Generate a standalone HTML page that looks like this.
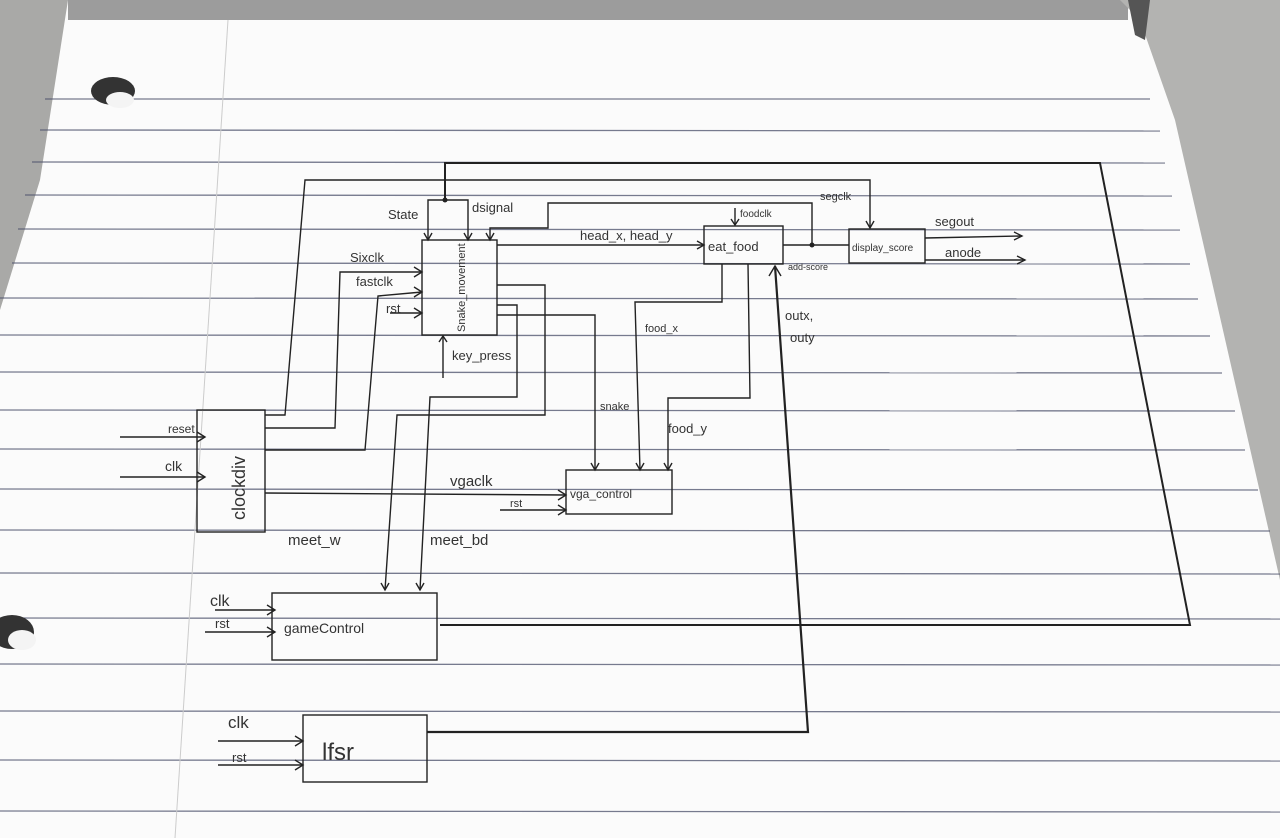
<!DOCTYPE html>
<html><head><meta charset="utf-8"><style>
html,body{margin:0;padding:0;background:#fff;}
svg{display:block}
text{font-family:"Liberation Sans",sans-serif;fill:#333}
</style></head><body>
<svg width="1280" height="838" viewBox="0 0 1280 838" xmlns="http://www.w3.org/2000/svg">
<rect width="1280" height="838" fill="#fbfbfb"/>
<!-- gray surroundings -->
<polygon points="0,0 68,0 40,180 0,310" fill="#a9a9a7"/>
<rect x="68" y="0" width="1060" height="20" fill="#9c9c9c"/>
<polygon points="1120,0 1280,0 1280,580 1175,120 1140,20" fill="#b3b3b1"/>
<polygon points="1128,0 1150,0 1145,40 1135,35" fill="#555"/>
<!-- ruled lines -->
<g stroke="#4a4f6a" stroke-width="1.3" opacity="0.75">
<line x1="45" y1="99" x2="1150" y2="99"/>
<line x1="40" y1="130" x2="1160" y2="131"/>
<line x1="32" y1="162" x2="1165" y2="163"/>
<line x1="25" y1="195" x2="1172" y2="196"/>
<line x1="18" y1="229" x2="1180" y2="230"/>
<line x1="12" y1="263" x2="1190" y2="264"/>
<line x1="0" y1="298" x2="1198" y2="299"/>
<line x1="0" y1="335" x2="1210" y2="336"/>
<line x1="0" y1="372" x2="1222" y2="373"/>
<line x1="0" y1="410" x2="1235" y2="411"/>
<line x1="0" y1="449" x2="1245" y2="450"/>
<line x1="0" y1="489" x2="1258" y2="490"/>
<line x1="0" y1="530" x2="1270" y2="531"/>
<line x1="0" y1="573" x2="1280" y2="574"/>
<line x1="0" y1="618" x2="1280" y2="619"/>
<line x1="0" y1="664" x2="1280" y2="665"/>
<line x1="0" y1="711" x2="1280" y2="712"/>
<line x1="0" y1="760" x2="1280" y2="761"/>
<line x1="0" y1="811" x2="1280" y2="812"/>
</g>
<line x1="228" y1="20" x2="175" y2="838" stroke="#ccc" stroke-width="1"/>
<!-- holes -->
<ellipse cx="113" cy="91" rx="22" ry="14" fill="#333"/>
<ellipse cx="120" cy="100" rx="14" ry="8" fill="#f4f4f4"/>
<ellipse cx="12" cy="632" rx="22" ry="17" fill="#333"/>
<ellipse cx="22" cy="640" rx="14" ry="10" fill="#f4f4f4"/>

<g stroke="#222" stroke-width="1.4" fill="none">
<!-- boxes -->
<rect x="422" y="240" width="75" height="95"/>
<rect x="704" y="226" width="79" height="38"/>
<rect x="849" y="229" width="76" height="34"/>
<rect x="566" y="470" width="106" height="44"/>
<rect x="197" y="410" width="68" height="122"/>
<rect x="272" y="593" width="165" height="67"/>
<rect x="303" y="715" width="124" height="67"/>
<!-- top wire -->
<polyline points="445,200 445,163 1100,163 1190,625 440,625" stroke-width="2"/>
<polyline points="428,240 428,200 468,200 468,240"/>
<!-- second wire -->
<polyline points="265,415 285,415 305,180 870,180 870,228"/>
<polyline points="490,240 490,228 548,228 548,203 812,203 812,245"/>
<line x1="497" y1="245" x2="704" y2="245"/>
<line x1="735" y1="208" x2="735" y2="225"/>
<line x1="783" y1="245" x2="849" y2="245"/>
<line x1="925" y1="238" x2="1022" y2="236"/>
<line x1="925" y1="260" x2="1025" y2="260"/>
<!-- clock wires -->
<polyline points="265,428 335,428 340,272 422,272"/>
<polyline points="265,450 365,450 378,296 422,292"/>
<line x1="390" y1="313" x2="422" y2="313"/>
<line x1="443" y1="378" x2="443" y2="336"/>
<!-- snake outputs -->
<polyline points="497,285 545,285 545,415 397,415 385,590"/>
<polyline points="497,305 517,305 517,397 430,397 420,590"/>
<polyline points="497,315 595,315 595,470"/>
<polyline points="722,264 722,302 635,302 640,470"/>
<polyline points="748,264 750,398 668,398 668,470"/>
<line x1="265" y1="493" x2="566" y2="495"/>
<line x1="500" y1="510" x2="566" y2="510"/>
<line x1="120" y1="437" x2="205" y2="437"/>
<line x1="120" y1="477" x2="205" y2="477"/>
<line x1="215" y1="610" x2="275" y2="610"/>
<line x1="205" y1="632" x2="275" y2="632"/>
<line x1="218" y1="741" x2="303" y2="741"/>
<line x1="218" y1="765" x2="303" y2="765"/>
<polyline points="427,732 808,732 775,266" stroke-width="2.2"/>
<!-- arrowheads -->
<polyline points="424,233 428,240 432,233"/>
<polyline points="464,233 468,240 472,233"/>
<polyline points="486,233 490,240 494,233"/>
<polyline points="697,241 704,245 697,249"/>
<polyline points="731,219 735,225 739,219"/>
<polyline points="866,221 870,228 874,221"/>
<polyline points="1014,232 1022,236 1014,240"/>
<polyline points="1017,256 1025,260 1017,264"/>
<polyline points="414,267 422,272 414,277"/>
<polyline points="414,287 422,292 414,297"/>
<polyline points="414,308 422,313 414,318"/>
<polyline points="439,342 443,336 447,342"/>
<polyline points="381,583 385,590 389,583"/>
<polyline points="416,583 420,590 424,583"/>
<polyline points="591,463 595,470 599,463"/>
<polyline points="636,463 640,470 644,463"/>
<polyline points="664,463 668,470 672,463"/>
<polyline points="558,490 566,495 558,500"/>
<polyline points="558,505 566,510 558,515"/>
<polyline points="197,432 205,437 197,442"/>
<polyline points="197,472 205,477 197,482"/>
<polyline points="267,605 275,610 267,615"/>
<polyline points="267,627 275,632 267,637"/>
<polyline points="295,736 303,741 295,746"/>
<polyline points="295,760 303,765 295,770"/>
<polyline points="769,276 775,266 781,276"/>
</g>
<circle cx="445" cy="200" r="2.5" fill="#222"/>
<circle cx="812" cy="245" r="2.5" fill="#222"/>

<g font-size="13">
<text x="388" y="219">State</text>
<text x="472" y="212">dsignal</text>
<text x="580" y="240">head_x, head_y</text>
<text x="740" y="217" font-size="10">foodclk</text>
<text x="708" y="251">eat_food</text>
<text x="820" y="200" font-size="11">segclk</text>
<text x="852" y="251" font-size="10">display_score</text>
<text x="788" y="270" font-size="9">add-score</text>
<text x="935" y="226">segout</text>
<text x="945" y="257">anode</text>
<text x="350" y="262">Sixclk</text>
<text x="356" y="286">fastclk</text>
<text x="386" y="313">rst</text>
<text x="0" y="0" font-size="11" transform="translate(465,332) rotate(-90)">Snake_movement</text>
<text x="452" y="360">key_press</text>
<text x="785" y="320">outx,</text>
<text x="790" y="342">outy</text>
<text x="645" y="332" font-size="11">food_x</text>
<text x="600" y="410" font-size="11">snake</text>
<text x="668" y="433">food_y</text>
<text x="450" y="486" font-size="15" fill="#666">vgaclk</text>
<text x="510" y="507" font-size="11">rst</text>
<text x="570" y="498" font-size="12">vga_control</text>
<text x="168" y="433" font-size="12">reset</text>
<text x="165" y="471" font-size="14">clk</text>
<text x="0" y="0" font-size="18" transform="translate(245,520) rotate(-90)">clockdiv</text>
<text x="288" y="545" font-size="15">meet_w</text>
<text x="430" y="545" font-size="15">meet_bd</text>
<text x="210" y="606" font-size="16">clk</text>
<text x="215" y="628" font-size="13">rst</text>
<text x="284" y="633" font-size="14">gameControl</text>
<text x="228" y="728" font-size="17">clk</text>
<text x="232" y="762" font-size="13">rst</text>
<text x="322" y="760" font-size="24">lfsr</text>
</g>
</svg>
</body></html>
